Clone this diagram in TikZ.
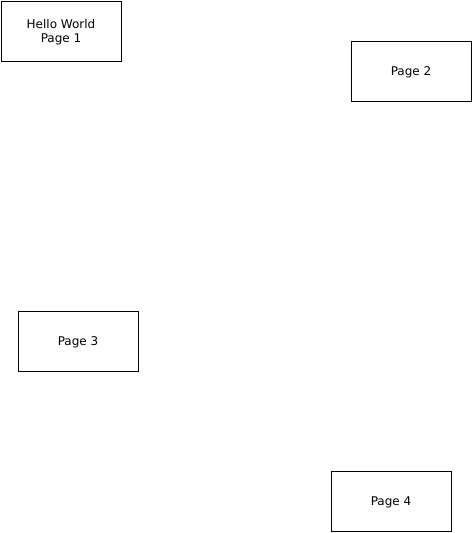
\documentclass[tikz,border=0pt]{standalone}
\usepackage{fontspec}
\setmainfont{DejaVu Sans}
\begin{document}
\begin{tikzpicture}[x=1pt,y=-1pt,
  pagebox/.style={draw=black,line width=0.8pt,fill=white,minimum width=120pt,minimum height=60pt,inner sep=0pt},
  pagetext/.style={inner sep=0pt,align=center,yshift=-1.5pt,font=\fontsize{12pt}{14pt}\selectfont}]
\useasboundingbox (0,0) rectangle (474,533);
\node[pagebox,label={[pagetext]center:Hello World\\Page 1}] (p1) at (61,31) {};
\node[pagebox,label={[pagetext]center:Page 2}] (p2) at (411,71) {};
\node[pagebox,label={[pagetext]center:Page 3}] (p3) at (78,341) {};
\node[pagebox,label={[pagetext]center:Page 4}] (p4) at (391,501) {};
\end{tikzpicture}
\end{document}
